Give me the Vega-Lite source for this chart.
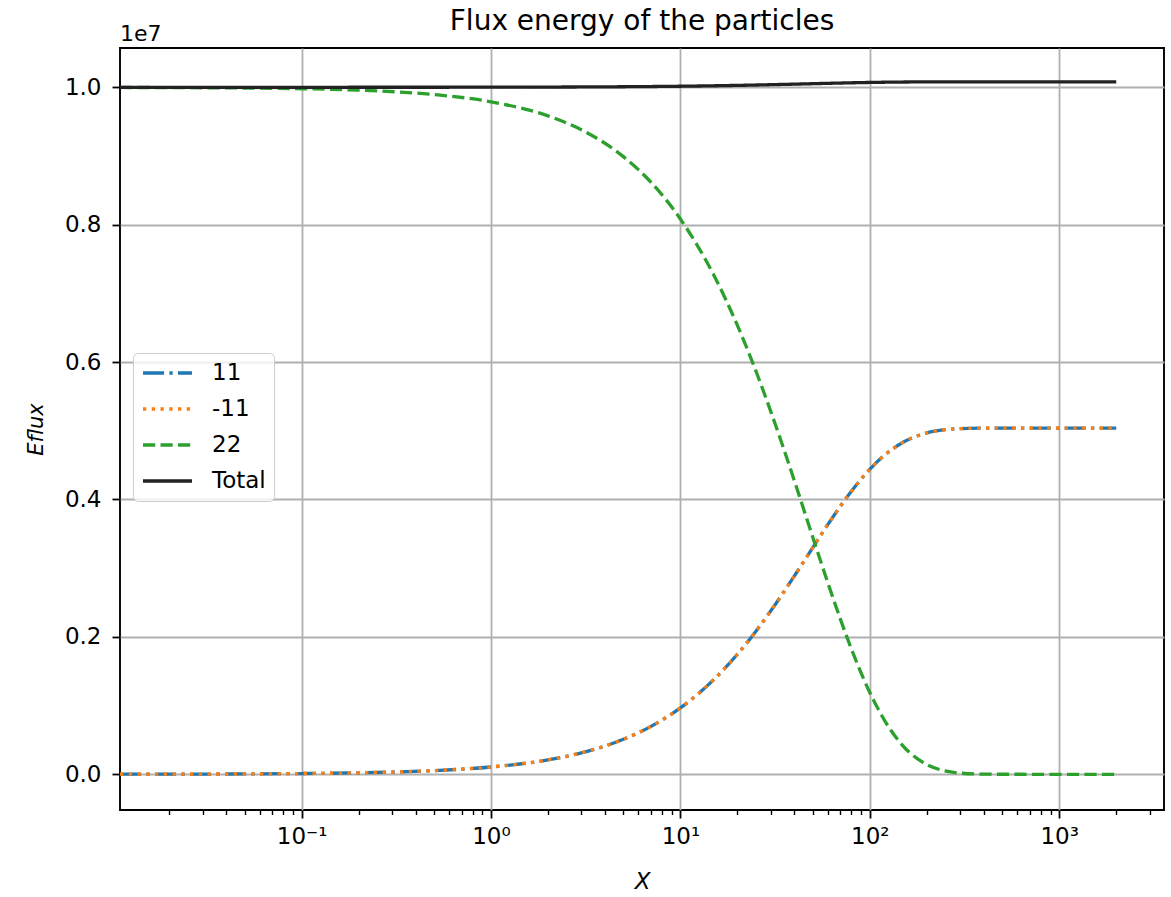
{
  "$schema": "https://vega.github.io/schema/vega-lite/v6.json",
  "width": 1044,
  "height": 762,
  "autosize": {"type": "none"},
  "padding": {"left": 120, "top": 48, "right": 7, "bottom": 87},
  "background": "white",
  "title": {"text": "Flux energy of the particles", "fontSize": 28, "font": "DejaVu Sans", "fontWeight": "normal", "color": "black", "frame": "group", "anchor": "middle", "baseline": "alphabetic", "offset": -35},
  "config": {"view": {"stroke": "black", "strokeWidth": 1.9}, "font": "DejaVu Sans"},
  "datasets": {
    "flux": [
      {"x":0.011,"s":"11","v":1180},{"x":0.02,"s":"11","v":2150},{"x":0.05,"s":"11","v":5360},{"x":0.1,"s":"11","v":10710},{"x":0.2,"s":"11","v":21400},{"x":0.5,"s":"11","v":53330},{"x":1,"s":"11","v":106100},{"x":2,"s":"11","v":209970},{"x":3,"s":"11","v":311650},{"x":5,"s":"11","v":508660},{"x":7,"s":"11","v":697410},{"x":10,"s":"11","v":965980},{"x":15,"s":"11","v":1377080},{"x":20,"s":"11","v":1746770},{"x":25,"s":"11","v":2079120},{"x":30,"s":"11","v":2377940},{"x":35,"s":"11","v":2646590},{"x":40,"s":"11","v":2888130},{"x":50,"s":"11","v":3300600},{"x":60,"s":"11","v":3633920},{"x":70,"s":"11","v":3903380},{"x":80,"s":"11","v":4121220},{"x":100,"s":"11","v":4439540},{"x":120,"s":"11","v":4647610},{"x":150,"s":"11","v":4832880},{"x":200,"s":"11","v":4968510},{"x":250,"s":"11","v":5015320},{"x":300,"s":"11","v":5031480},{"x":400,"s":"11","v":5038990},{"x":500,"s":"11","v":5039880},{"x":700,"s":"11","v":5040000},{"x":1000,"s":"11","v":5040000},{"x":2000,"s":"11","v":5040000},
      {"x":0.011,"s":"-11","v":1180},{"x":0.02,"s":"-11","v":2150},{"x":0.05,"s":"-11","v":5360},{"x":0.1,"s":"-11","v":10710},{"x":0.2,"s":"-11","v":21400},{"x":0.5,"s":"-11","v":53330},{"x":1,"s":"-11","v":106100},{"x":2,"s":"-11","v":209970},{"x":3,"s":"-11","v":311650},{"x":5,"s":"-11","v":508660},{"x":7,"s":"-11","v":697410},{"x":10,"s":"-11","v":965980},{"x":15,"s":"-11","v":1377080},{"x":20,"s":"-11","v":1746770},{"x":25,"s":"-11","v":2079120},{"x":30,"s":"-11","v":2377940},{"x":35,"s":"-11","v":2646590},{"x":40,"s":"-11","v":2888130},{"x":50,"s":"-11","v":3300600},{"x":60,"s":"-11","v":3633920},{"x":70,"s":"-11","v":3903380},{"x":80,"s":"-11","v":4121220},{"x":100,"s":"-11","v":4439540},{"x":120,"s":"-11","v":4647610},{"x":150,"s":"-11","v":4832880},{"x":200,"s":"-11","v":4968510},{"x":250,"s":"-11","v":5015320},{"x":300,"s":"-11","v":5031480},{"x":400,"s":"-11","v":5038990},{"x":500,"s":"-11","v":5039880},{"x":700,"s":"-11","v":5040000},{"x":1000,"s":"-11","v":5040000},{"x":2000,"s":"-11","v":5040000},
      {"x":0.011,"s":"22","v":9997660},{"x":0.02,"s":"22","v":9995740},{"x":0.05,"s":"22","v":9989370},{"x":0.1,"s":"22","v":9978750},{"x":0.2,"s":"22","v":9957540},{"x":0.5,"s":"22","v":9894180},{"x":1,"s":"22","v":9789480},{"x":2,"s":"22","v":9583400},{"x":3,"s":"22","v":9381640},{"x":5,"s":"22","v":8990750},{"x":7,"s":"22","v":8616250},{"x":10,"s":"22","v":8083370},{"x":15,"s":"22","v":7267700},{"x":20,"s":"22","v":6534190},{"x":25,"s":"22","v":5874760},{"x":30,"s":"22","v":5281870},{"x":35,"s":"22","v":4748830},{"x":40,"s":"22","v":4269580},{"x":50,"s":"22","v":3451190},{"x":60,"s":"22","v":2789850},{"x":70,"s":"22","v":2255190},{"x":80,"s":"22","v":1822980},{"x":100,"s":"22","v":1191390},{"x":120,"s":"22","v":778560},{"x":150,"s":"22","v":410950},{"x":200,"s":"22","v":141850},{"x":250,"s":"22","v":48970},{"x":300,"s":"22","v":16900},{"x":400,"s":"22","v":2010},{"x":500,"s":"22","v":240},{"x":700,"s":"22","v":0},{"x":1000,"s":"22","v":0},{"x":2000,"s":"22","v":0},
      {"x":0.011,"s":"Total","v":10000020},{"x":0.02,"s":"Total","v":10000030},{"x":0.05,"s":"Total","v":10000090},{"x":0.1,"s":"Total","v":10000170},{"x":0.2,"s":"Total","v":10000340},{"x":0.5,"s":"Total","v":10000850},{"x":1,"s":"Total","v":10001680},{"x":2,"s":"Total","v":10003330},{"x":3,"s":"Total","v":10004950},{"x":5,"s":"Total","v":10008070},{"x":7,"s":"Total","v":10011070},{"x":10,"s":"Total","v":10015330},{"x":15,"s":"Total","v":10021860},{"x":20,"s":"Total","v":10027730},{"x":25,"s":"Total","v":10033000},{"x":30,"s":"Total","v":10037750},{"x":35,"s":"Total","v":10042010},{"x":40,"s":"Total","v":10045840},{"x":50,"s":"Total","v":10052390},{"x":60,"s":"Total","v":10057680},{"x":70,"s":"Total","v":10061960},{"x":80,"s":"Total","v":10065420},{"x":100,"s":"Total","v":10070470},{"x":120,"s":"Total","v":10073770},{"x":150,"s":"Total","v":10076710},{"x":200,"s":"Total","v":10078870},{"x":250,"s":"Total","v":10079610},{"x":300,"s":"Total","v":10079870},{"x":400,"s":"Total","v":10079980},{"x":500,"s":"Total","v":10080000},{"x":700,"s":"Total","v":10080000},{"x":1000,"s":"Total","v":10080000},{"x":2000,"s":"Total","v":10080000}
    ],
    "offsetLabel": [{"t": "1e7"}]
  },
  "layer": [
    {
      "data": {"name": "flux"},
      "mark": {"type": "line", "strokeWidth": 3.3, "interpolate": "monotone"},
      "encoding": {
        "x": {
          "field": "x", "type": "quantitative",
          "scale": {"type": "log", "domain": [0.011, 3575], "nice": false},
          "axis": {
            "values": [0.02,0.03,0.04,0.05,0.06,0.07,0.08,0.09,0.1,0.2,0.3,0.4,0.5,0.6,0.7,0.8,0.9,1,2,3,4,5,6,7,8,9,10,20,30,40,50,60,70,80,90,100,200,300,400,500,600,700,800,900,1000,2000,3000],
            "labelExpr": "datum.value==0.1?'10⁻¹':datum.value==1?'10⁰':datum.value==10?'10¹':datum.value==100?'10²':datum.value==1000?'10³':''",
            "grid": true, "gridColor": "#b0b0b0", "gridWidth": 1.8,
            "gridOpacity": {"condition": {"test": "abs(log(datum.value)/LN10 - round(log(datum.value)/LN10)) < 0.001", "value": 1}, "value": 0},
            "tickSize": {"condition": {"test": "abs(log(datum.value)/LN10 - round(log(datum.value)/LN10)) < 0.001", "value": 8}, "value": 4.5},
            "tickWidth": {"condition": {"test": "abs(log(datum.value)/LN10 - round(log(datum.value)/LN10)) < 0.001", "value": 1.8}, "value": 1.4},
            "tickColor": "black",
            "domain": false,
            "labelFontSize": 23, "labelColor": "black", "labelPadding": 7, "labelFlush": false, "labelOverlap": false, "labelFont": "DejaVu Sans",
            "title": "X", "titleFontStyle": "italic", "titleFontWeight": "normal", "titleFontSize": 23, "titleColor": "black", "titlePadding": 22, "titleFont": "DejaVu Sans"
          }
        },
        "y": {
          "field": "v", "type": "quantitative",
          "scale": {"domain": [-520000, 10572000], "nice": false, "zero": false},
          "axis": {
            "values": [0, 2000000, 4000000, 6000000, 8000000, 10000000],
            "labelExpr": "format(datum.value/10000000, '.1f')",
            "grid": true, "gridColor": "#b0b0b0", "gridWidth": 1.8,
            "tickSize": 8, "tickWidth": 1.8, "tickColor": "black",
            "domain": false,
            "labelFontSize": 23, "labelColor": "black", "labelPadding": 11, "labelFont": "DejaVu Sans",
            "title": "Eflux", "titleFontStyle": "italic", "titleFontWeight": "normal", "titleFontSize": 21, "titleColor": "black", "titlePadding": 18, "titleFont": "DejaVu Sans"
          }
        },
        "color": {
          "field": "s", "type": "nominal",
          "scale": {"domain": ["11", "-11", "22", "Total"], "range": ["#1f77b4", "#ff7f0e", "#2ca02c", "#222222"]},
          "legend": {"orient": "none", "legendX": 13, "legendY": 305, "title": null, "symbolType": "stroke", "symbolSize": 2401, "symbolStrokeWidth": 3.3, "clipHeight": 24, "rowPadding": 12, "padding": 8, "labelOffset": 18, "labelFontSize": 23, "labelColor": "black", "labelFont": "DejaVu Sans", "cornerRadius": 5, "strokeColor": "#cccccc", "fillColor": "rgba(255,255,255,0.8)", "labelLimit": 300}
        },
        "strokeDash": {
          "field": "s", "type": "nominal",
          "scale": {"domain": ["11", "-11", "22", "Total"], "range": [[21.1, 5.3, 3.3, 5.3], [3.3, 5.45], [12.2, 5.3], [1, 0]]},
          "legend": {"orient": "none", "legendX": 13, "legendY": 305, "title": null, "symbolType": "stroke", "symbolSize": 2401, "symbolStrokeWidth": 3.3, "clipHeight": 24, "rowPadding": 12, "padding": 8, "labelOffset": 18, "labelFontSize": 23, "labelColor": "black", "labelFont": "DejaVu Sans", "cornerRadius": 5, "strokeColor": "#cccccc", "fillColor": "rgba(255,255,255,0.8)", "labelLimit": 300}
        }
      }
    },
    {
      "data": {"name": "offsetLabel"},
      "mark": {"type": "text", "fontSize": 22, "align": "left", "baseline": "alphabetic", "dy": -7, "color": "black", "font": "DejaVu Sans"},
      "encoding": {
        "x": {"datum": 0.011, "type": "quantitative"},
        "y": {"datum": 10572000, "type": "quantitative"},
        "text": {"field": "t"}
      }
    }
  ]
}
